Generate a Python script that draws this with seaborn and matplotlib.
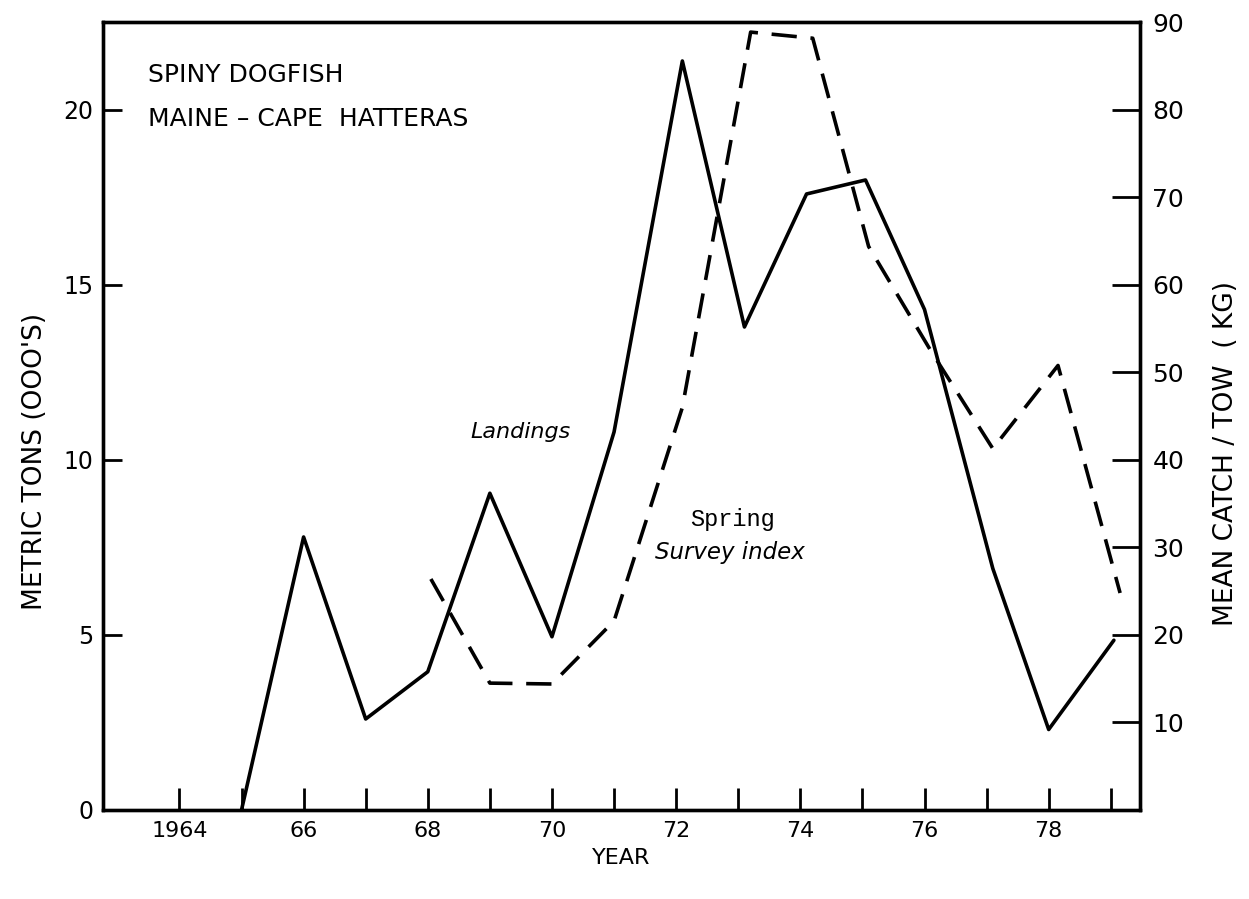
import pandas as pd
import matplotlib
matplotlib.use("Agg")
import matplotlib.pyplot as plt
import seaborn as sns

# Landings (thousand metric tons)
land_year = [1965, 1966, 1967, 1968, 1969, 1970, 1971, 1972.1, 1973.1, 1974.1, 1975.05, 1976, 1977.1, 1978, 1979.05]
land_tons = [0, 7.8, 2.6, 3.95, 9.05, 4.95, 10.8, 21.4, 13.8, 17.6, 18.0, 14.3, 6.9, 2.3, 4.85]

# Spring survey index (mean catch per tow, kg)
surv_year = [1968.05, 1969, 1970, 1971, 1972.1, 1973.2, 1974.2, 1975.1, 1976.1, 1977.1, 1978.15, 1979.15]
surv_kg = [26.4, 14.5, 14.4, 21.6, 46, 88.9, 88.2, 64.4, 52.5, 41.3, 50.8, 24.8]

year_ticks = list(range(1964, 1980))
year_labels = ["1964" if y == 1964 else (str(y)[2:] if y % 2 == 0 else "") for y in year_ticks]
left_ticks = [0, 5, 10, 15, 20]
right_ticks = [10, 20, 30, 40, 50, 60, 70, 80, 90]

landings = pd.DataFrame({"year": land_year, "tons": land_tons})
survey = pd.DataFrame({"year": surv_year, "kg": surv_kg})

sns.set_style("ticks", {"text.color": "black", "axes.labelcolor": "black",
                        "xtick.color": "black", "ytick.color": "black"})
plt.rcParams["font.family"] = ["DejaVu Sans"]

fig = plt.figure(figsize=(12.49, 8.99), dpi=100)
ax = fig.add_axes([0.0825, 0.099, 0.8302, 0.876])
ax2 = ax.twinx()

sns.lineplot(data=landings, x="year", y="tons", ax=ax, color="black", linewidth=2.6)
sns.lineplot(data=survey, x="year", y="kg", ax=ax2, color="black", linewidth=2.6)
ax2.lines[0].set_dashes([7, 3.8])

ax.set_xlim(1962.77, 1979.47)
ax.set_ylim(0, 22.5)
ax2.set_ylim(0, 90)

ax.set_xticks(year_ticks)
ax.set_xticklabels(year_labels)
ax.set_yticks(left_ticks)
ax2.set_yticks(right_ticks)

ax.tick_params(axis="x", direction="in", length=16, width=2, labelsize=16, pad=8)
ax.tick_params(axis="y", direction="in", length=14, width=2, labelsize=17, pad=7)
ax2.tick_params(axis="y", direction="in", length=20, width=2, labelsize=18, pad=9)

for a in (ax, ax2):
    for s in a.spines.values():
        s.set_linewidth(2.4)
        s.set_color("black")

ax.set_xlabel("YEAR", fontsize=16, labelpad=5)
ax.set_ylabel("METRIC TONS (OOO'S)", fontsize=19)
ax.yaxis.set_label_coords(-0.053, 0.443)
ax2.set_ylabel("MEAN CATCH / TOW  ( KG)", fontsize=19)
ax2.yaxis.set_label_coords(1.07, 0.453)

ax.text(1963.5, 21.0, "SPINY DOGFISH", fontsize=18, va="center")
ax.text(1963.5, 19.75, "MAINE \u2013 CAPE  HATTERAS", fontsize=18, va="center")
ax.text(1968.68, 10.8, "Landings", fontsize=16, style="italic", va="center")
ax.text(1972.22, 8.3, "Spring", fontsize=17, family="Liberation Mono", va="center")
ax.text(1971.66, 7.35, "Survey index", fontsize=16.5, style="italic", va="center")

fig.savefig("out.png", dpi=100)
